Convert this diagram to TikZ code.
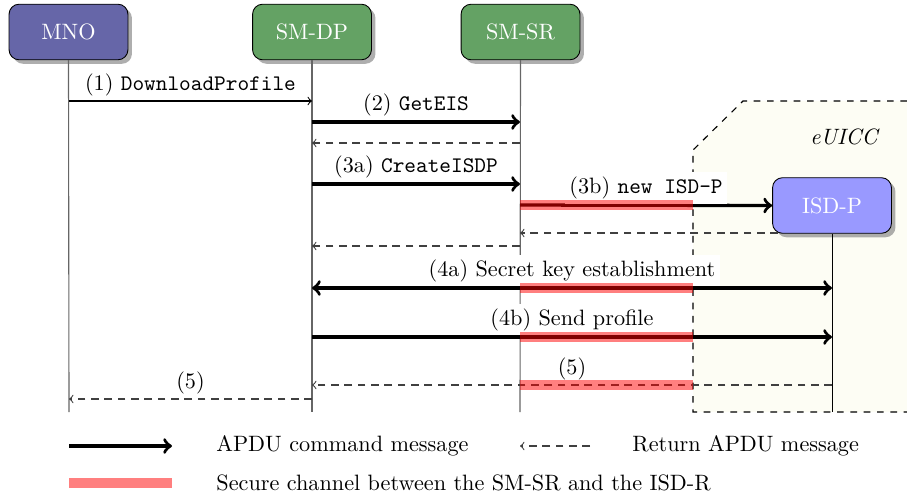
\documentclass[tikz,border=0pt]{standalone}
\usetikzlibrary{shadows}
\definecolor{mnoc}{RGB}{102,102,168}
\definecolor{smc}{RGB}{100,162,100}
\definecolor{isdc}{RGB}{153,153,255}
\definecolor{euiccc}{RGB}{253,253,244}
\begin{document}
\begin{tikzpicture}[x=0.45pt,y=-0.45pt,
  actor/.style={draw=black, rounded corners=4.5pt, minimum width=53.5pt, minimum height=25pt,
    inner sep=0pt, text=white, drop shadow={shadow xshift=1.8pt, shadow yshift=-1.8pt, fill=black!45, opacity=0.7}},
  life/.style={black!60, line width=0.5pt},
  cmd/.style={->, line width=1.5pt},
  thin cmd/.style={->, line width=0.5pt},
  ret/.style={->, black!75, line width=0.5pt, dash pattern=on 3.5pt off 2.5pt},
  secure/.style={red, opacity=0.5, line width=4.8pt},
  lbl/.style={midway, above, fill=white, text=black, inner sep=2pt},
  legtxt/.style={anchor=west, inner sep=0pt}]
\useasboundingbox (0,0) rectangle (907,498);
% eUICC region
\fill[euiccc] (693,412) -- (693,150) -- (743,101) -- (907,101) -- (907,412) -- cycle;
\draw[dashed, line width=0.5pt] (907,101) -- (743,101) -- (693,150) -- (693,412) -- (907,412);
\node (euicc) at (845,137) {\textit{eUICC}};
% actors
\node[actor, fill=mnoc] (mno) at (68.5,32) {MNO};
\node[actor, fill=smc] (smdp) at (312,32) {SM-DP};
\node[actor, fill=smc] (smsr) at (520.5,32) {SM-SR};
% lifeline ends
\coordinate (mnoE) at (69,412);
\coordinate (smdpE) at (312,412);
\coordinate (smsrE) at (520,412);
\coordinate (isdE) at (832,412);
\draw[life] (mno.south) -- (mnoE);
\draw[life] (smdp.south) -- (smdpE);
\draw[life] (smsr.south) -- (smsrE);
% ISD-P
\node[actor, fill=isdc] (isdp) at (832,205.5) {ISD-P};
\draw[line width=0.4pt] (isdp.south) -- (isdE);
% message points
\coordinate (m1) at (69,101);   \coordinate (d1) at (312,101);
\coordinate (d2) at (312,122);  \coordinate (s2) at (520,122);
\coordinate (s3) at (520,143);  \coordinate (d3) at (312,143);
\coordinate (d4) at (312,184);  \coordinate (s4) at (520,184);
\coordinate (s5) at (520,205);  \coordinate (e5) at (693,205);
\coordinate (i6) at (778,233);  \coordinate (s6) at (520,233);
\coordinate (s7) at (520,246);  \coordinate (d7) at (312,246);
\coordinate (d8) at (312,288);  \coordinate (i8) at (832,288);
\coordinate (s8) at (520,288);  \coordinate (e8) at (693,288);
\coordinate (d9) at (312,337);  \coordinate (i9) at (832,337);
\coordinate (s9) at (520,337);  \coordinate (e9) at (693,337);
\coordinate (i10) at (832,385); \coordinate (d10) at (312,385);
\coordinate (s10) at (520,385); \coordinate (e10) at (693,385);
\coordinate (d11) at (312,399); \coordinate (m11) at (69,399);
% messages
\draw[thin cmd] (m1) -- (d1) node[lbl] (l1) {(1) \texttt{DownloadProfile}};
\draw[cmd] (d2) -- (s2) node[lbl] (l2) {(2) \texttt{GetEIS}};
\draw[ret] (s3) -- (d3);
\draw[cmd] (d4) -- (s4) node[lbl] (l3a) {(3a) \texttt{CreateISDP}};
\draw[cmd] (s5) -- (isdp.west) node[lbl] (l3b) {(3b) \texttt{new ISD-P}};
\draw[secure] (s5) -- (e5);
\draw[ret] (i6) -- (s6);
\draw[ret] (s7) -- (d7);
\draw[cmd, <->] (d8) -- (i8) node[lbl] (l4a) {(4a) Secret key establishment};
\draw[secure] (s8) -- (e8);
\draw[cmd] (d9) -- (i9) node[lbl] (l4b) {(4b) Send profile};
\draw[secure] (s9) -- (e9);
\draw[ret] (i10) -- (d10) node[lbl] (l5a) {(5)};
\draw[secure] (s10) -- (e10);
\draw[ret] (d11) -- (m11) node[lbl] (l5b) {(5)};
% legend
\coordinate (ga) at (69,446);  \coordinate (gb) at (172,446);
\coordinate (gc) at (590,446); \coordinate (gd) at (520,446);
\coordinate (ge) at (69,483);  \coordinate (gf) at (172,483);
\draw[cmd] (ga) -- (gb);
\node[legtxt] (t1) at (216,446) {APDU command message};
\draw[ret] (gc) -- (gd);
\node[legtxt] (t2) at (632,446) {Return APDU message};
\draw[secure] (ge) -- (gf);
\node[legtxt] (t3) at (216,483) {Secure channel between the SM-SR and the ISD-R};
\end{tikzpicture}
\end{document}
